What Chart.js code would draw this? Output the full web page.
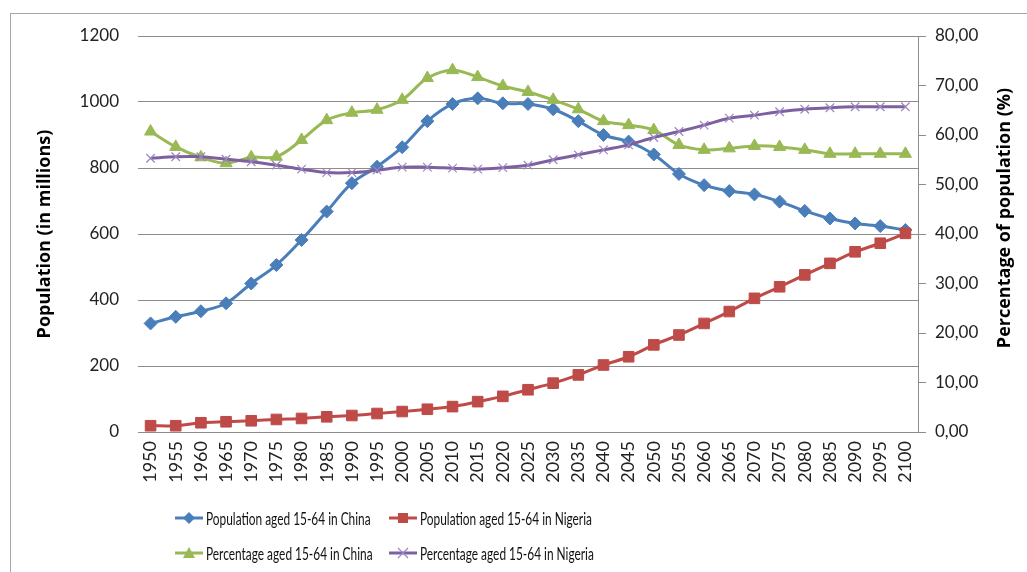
<!DOCTYPE html>
<html>
<head>
<meta charset="utf-8">
<script src="https://cdn.jsdelivr.net/npm/chart.js@4.4.1/dist/chart.umd.min.js"></script>
<style>
	html, body { margin: 0; padding: 0; background: #fff; overflow: hidden; }
	#wrap { position: relative; width: 1027px; height: 572px; overflow: hidden; }
	#frame { position: absolute; left: 10px; top: 13px; width: 1100px; height: 700px; border: 1px solid #a6a6a6; }
	#popChart { position: absolute; left: 0; top: 0; }
	.leg { position: absolute; height: 20px; font-family: Lato, sans-serif; font-size: 18px; color: #111; white-space: nowrap; }
	.leg svg { position: absolute; left: 0; top: 2px; }
	.leg span { position: absolute; left: 31px; top: 0; line-height: 20px; transform: scaleX(0.66); transform-origin: 0 50%; }
</style>
</head>
<body>
<div id="wrap">
	<div id="frame"></div>
	<canvas id="popChart" width="1027" height="572"></canvas>
	<div id="legend"></div>
</div>
<script>
const years = ['1950', '1955', '1960', '1965', '1970', '1975', '1980', '1985', '1990', '1995', '2000',
	'2005', '2010', '2015', '2020', '2025', '2030', '2035', '2040', '2045', '2050',
	'2055', '2060', '2065', '2070', '2075', '2080', '2085', '2090', '2095', '2100'];

const chinaPop = [329, 349, 366, 390, 450, 506, 582, 668, 754, 804, 863,
	942, 994, 1011, 996, 994, 978, 942, 900, 880, 841,
	782, 748, 730, 720, 698, 670, 647, 632, 624, 612];

const nigeriaPop = [19, 19, 28, 31, 34, 38, 41, 46, 50, 56, 62,
	69, 77, 92, 108, 128, 148, 173, 203, 228, 264,
	294, 329, 365, 405, 440, 476, 511, 546, 572, 602];

const chinaPct = [60.7, 57.6, 55.5, 54.3, 55.5, 55.6, 59.0, 63.0, 64.5, 65.1, 67.1,
	71.5, 73.1, 71.7, 69.9, 68.7, 67.1, 65.2, 62.8, 62.0, 61.0,
	58.0, 57.0, 57.3, 57.8, 57.6, 57.0, 56.2, 56.2, 56.2, 56.2];

const nigeriaPct = [55.3, 55.6, 55.6, 55.1, 54.6, 53.9, 53.1, 52.4, 52.4, 52.9, 53.5,
	53.5, 53.3, 53.1, 53.4, 53.9, 55.0, 56.0, 57.0, 58.0, 59.5,
	60.7, 62.0, 63.4, 64.0, 64.7, 65.2, 65.5, 65.7, 65.7, 65.7];

const popTicks = [0, 200, 400, 600, 800, 1000, 1200];
const pctTicks = [0, 10, 20, 30, 40, 50, 60, 70, 80];

const seriesNames = [
	'Population aged 15-64 in China',
	'Population aged 15-64 in Nigeria',
	'Percentage aged 15-64 in China',
	'Percentage aged 15-64 in Nigeria'
];
const leftTitle = 'Population (in millions)';
const rightTitle = 'Percentage of population (%)';

const BLUE = '#4a7ebb', RED = '#be4b48', GREEN = '#98b954', PURPLE = '#7d60a0';
const GRID = '#8c8c8c';
const FONT = 'Lato, "Open Sans", sans-serif';
const TITLE_FONT = 'bold 18px "Open Sans", Lato, sans-serif';

function line(label, data, color, axis, style, radius, extra) {
	return Object.assign({
		label: label,
		data: data,
		yAxisID: axis,
		borderColor: color,
		backgroundColor: color,
		borderWidth: 3,
		tension: 0.35,
		pointStyle: style,
		pointRadius: radius,
		pointHoverRadius: radius,
		pointBackgroundColor: color,
		pointBorderColor: color,
		pointBorderWidth: 1
	}, extra || {});
}

// right title reads bottom-to-top, like the left one
const rightTitlePlugin = {
	id: 'rightTitle',
	afterDraw: function(chart) {
		const ctx = chart.ctx;
		const area = chart.chartArea;
		ctx.save();
		ctx.translate(1005, (area.top + area.bottom) / 2 - 16);
		ctx.rotate(-Math.PI / 2);
		ctx.font = TITLE_FONT;
		ctx.fillStyle = '#000';
		ctx.textAlign = 'center';
		ctx.textBaseline = 'middle';
		ctx.fillText(rightTitle, 0, 0);
		ctx.restore();
	}
};

new Chart(document.getElementById('popChart').getContext('2d'), {
	type: 'line',
	data: {
		labels: years,
		datasets: [
			line(seriesNames[3], nigeriaPct, PURPLE, 'y2', 'crossRot', 6, { pointBorderColor: '#9d86c0', pointBorderWidth: 1.2 }),
			line(seriesNames[2], chinaPct, GREEN, 'y2', 'triangle', 7),
			line(seriesNames[1], nigeriaPop, RED, 'y', 'rect', 7.5),
			line(seriesNames[0], chinaPop, BLUE, 'y', 'rectRot', 6.5)
		]
	},
	plugins: [rightTitlePlugin],
	options: {
		responsive: false,
		animation: false,
		layout: { padding: { left: 30, right: 10, top: 36, bottom: 0 } },
		plugins: {
			legend: { display: false },
			tooltip: { enabled: false }
		},
		scales: {
			x: {
				offset: true,
				grid: { display: false, drawTicks: false },
				border: { display: false },
				ticks: {
					minRotation: 90,
					maxRotation: 90,
					autoSkip: false,
					padding: 9,
					color: '#222',
					font: { family: FONT, size: 18 }
				},
				afterFit: function(s) { s.height = 140; }
			},
			y: {
				position: 'left',
				min: 0,
				max: 1200,
				afterBuildTicks: function(s) { s.ticks = popTicks.map(v => ({ value: v })); },
				grid: { color: GRID, lineWidth: 1, drawTicks: false },
				border: { display: false },
				ticks: {
					padding: 19,
					color: '#222',
					font: { family: FONT, size: 17 },
					callback: function(v) { return String(v); }
				},
				title: {
					display: true,
					text: leftTitle,
					color: '#000',
					padding: 4,
					font: { family: '"Open Sans", Lato, sans-serif', size: 18, weight: 'bold' }
				},
				afterFit: function(s) { s.width = 108; }
			},
			y2: {
				position: 'right',
				min: 0,
				max: 80,
				afterBuildTicks: function(s) { s.ticks = pctTicks.map(v => ({ value: v })); },
				grid: { drawOnChartArea: false, color: GRID, tickLength: 8 },
				border: { display: true, color: GRID, width: 1 },
				ticks: {
					padding: 9,
					color: '#222',
					font: { family: FONT, size: 17 },
					callback: function(v) { return v.toFixed(2).replace('.', ','); }
				},
				afterFit: function(s) { s.width = 99; }
			}
		}
	}
});

// legend, two rows of two
const legendMarks = [
	'<path d="M14 2 L20 8 L14 14 L8 8 Z" fill="' + BLUE + '"/>',
	'<rect x="9" y="3" width="10" height="10" fill="' + RED + '"/>',
	'<path d="M14 2 L20 13 L8 13 Z" fill="' + GREEN + '"/>',
	'<path d="M9 3 L19 13 M19 3 L9 13" stroke="#9d86c0" stroke-width="1.2"/>'
];
const legendColors = [BLUE, RED, GREEN, PURPLE];
const legendPos = [[175, 518], [389, 518], [175, 553], [389, 553]];
const legendEl = document.getElementById('legend');
seriesNames.forEach(function(name, i) {
	const d = document.createElement('div');
	d.className = 'leg';
	d.style.left = legendPos[i][0] + 'px';
	d.style.top = (legendPos[i][1] - 10) + 'px';
	d.innerHTML = '<svg width="28" height="16"><line x1="0" y1="8" x2="28" y2="8" stroke="' + legendColors[i] +
		'" stroke-width="3"/>' + legendMarks[i] + '</svg><span>' + name + '</span>';
	legendEl.appendChild(d);
});
</script>
</body>
</html>
